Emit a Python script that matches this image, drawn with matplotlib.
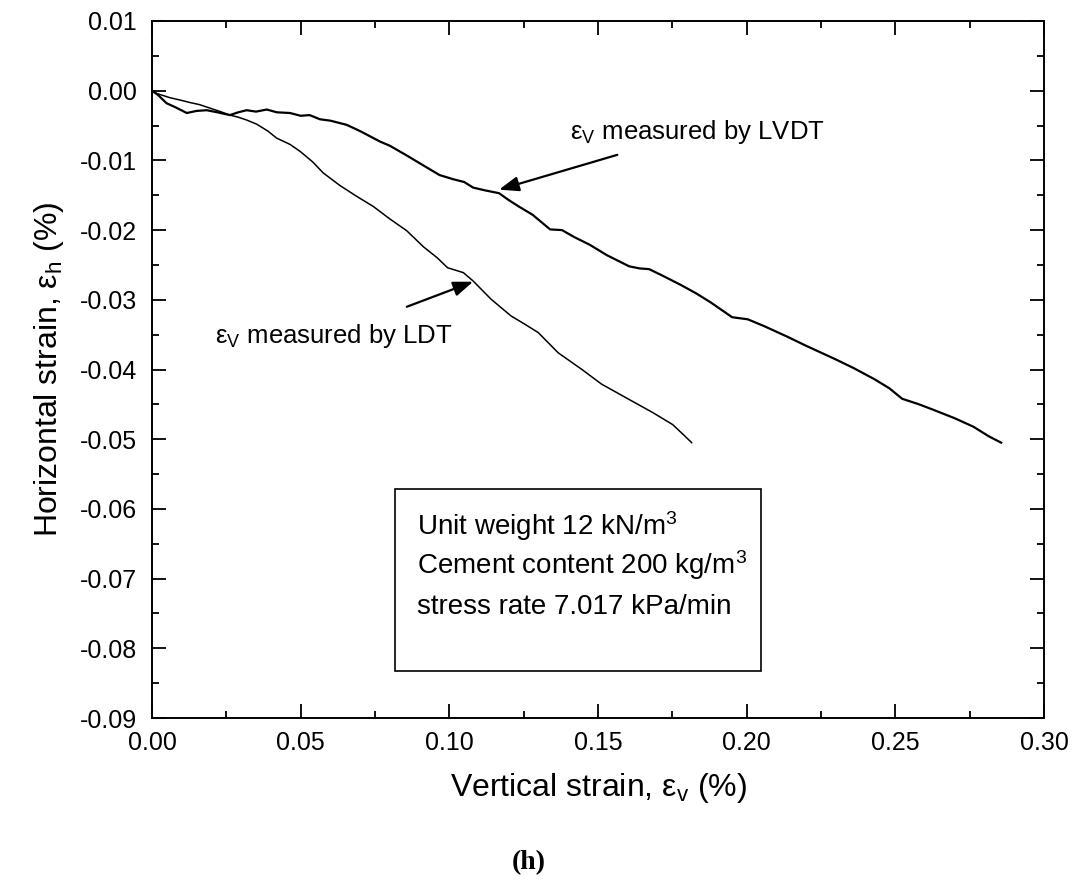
import numpy as np
import matplotlib
matplotlib.use("Agg")
import matplotlib.pyplot as plt
from matplotlib.ticker import MultipleLocator, FormatStrFormatter

plt.rcParams['font.family'] = ['Liberation Sans', 'DejaVu Sans']
plt.rcParams['mathtext.default'] = 'regular'

# eps_v measured by LVDT (x: vertical strain %, y: horizontal strain %)
lvdt_ev = [0.0000, 0.0020, 0.0049, 0.0080, 0.0117, 0.0150, 0.0184, 0.0220, 0.0262, 0.0290,
           0.0318, 0.0350, 0.0386, 0.0420, 0.0464, 0.0500, 0.0530, 0.0565, 0.0600, 0.0655,
           0.0700, 0.0767, 0.0800, 0.0857, 0.0900, 0.0967, 0.1013, 0.1050, 0.1080, 0.1120,
           0.1167, 0.1200, 0.1233, 0.1280, 0.1339, 0.1379, 0.1420, 0.1472, 0.1530, 0.1605,
           0.1640, 0.1672, 0.1720, 0.1780, 0.1831, 0.1880, 0.1951, 0.2004, 0.2060, 0.2137,
           0.2200, 0.2297, 0.2360, 0.2430, 0.2480, 0.2523, 0.2580, 0.2629, 0.2700, 0.2762,
           0.2815, 0.2856]
lvdt_eh = [0.0000, -0.0006, -0.0018, -0.0024, -0.0032, -0.0029, -0.0028, -0.0031, -0.0035, -0.0031,
           -0.0028, -0.0030, -0.0027, -0.0031, -0.0032, -0.0036, -0.0035, -0.0041, -0.0043, -0.0049,
           -0.0058, -0.0073, -0.0079, -0.0093, -0.0104, -0.0121, -0.0127, -0.0131, -0.0139, -0.0143,
           -0.0147, -0.0157, -0.0166, -0.0178, -0.0199, -0.0200, -0.0210, -0.0221, -0.0236, -0.0252,
           -0.0255, -0.0256, -0.0266, -0.0279, -0.0291, -0.0304, -0.0325, -0.0328, -0.0338, -0.0353,
           -0.0366, -0.0385, -0.0398, -0.0414, -0.0427, -0.0442, -0.0450, -0.0458, -0.0470, -0.0482,
           -0.0496, -0.0505]

# eps_v measured by LDT
ldt_ev = [0.0000, 0.0016, 0.0060, 0.0100, 0.0128, 0.0160, 0.0195, 0.0230, 0.0262, 0.0290,
          0.0318, 0.0352, 0.0390, 0.0419, 0.0464, 0.0498, 0.0540, 0.0576, 0.0632, 0.0690,
          0.0744, 0.0800, 0.0857, 0.0913, 0.0960, 0.0994, 0.1047, 0.1080, 0.1140, 0.1207,
          0.1250, 0.1299, 0.1366, 0.1446, 0.1512, 0.1592, 0.1685, 0.1751, 0.1791, 0.1815]
ldt_eh = [0.0000, -0.0004, -0.0010, -0.0014, -0.0017, -0.0020, -0.0025, -0.0030, -0.0035, -0.0038,
          -0.0042, -0.0048, -0.0058, -0.0068, -0.0077, -0.0087, -0.0102, -0.0118, -0.0136, -0.0152,
          -0.0166, -0.0184, -0.0201, -0.0224, -0.0240, -0.0254, -0.0261, -0.0273, -0.0299, -0.0323,
          -0.0334, -0.0347, -0.0376, -0.0400, -0.0421, -0.0440, -0.0462, -0.0479, -0.0495, -0.0505]

box_lines = ["Unit weight 12 kN/m$^3$",
             "Cement content 200 kg/m$^3$",
             "stress rate 7.017 kPa/min"]

fig = plt.figure(figsize=(10.83, 8.83), dpi=100)
ax = fig.add_axes([152/1083, 1-718/883, (1044-152)/1083, (718-21)/883])

ax.plot(lvdt_ev, lvdt_eh, color='black', lw=1.6)
ax.plot(ldt_ev, ldt_eh, color='black', lw=1.1)

ax.set_xlim(0, 0.30)
ax.set_ylim(-0.09, 0.01)
ax.xaxis.set_major_locator(MultipleLocator(0.05))
ax.xaxis.set_minor_locator(MultipleLocator(0.025))
ax.yaxis.set_major_locator(MultipleLocator(0.01))
ax.yaxis.set_minor_locator(MultipleLocator(0.005))
ax.xaxis.set_major_formatter(FormatStrFormatter('%.2f'))
ax.yaxis.set_major_formatter(FormatStrFormatter('%.2f'))
ax.tick_params(which='both', direction='in', top=True, right=True, width=1.3)
ax.tick_params(which='major', length=10, labelsize=18)
ax.tick_params(axis='x', which='major', pad=9)
ax.tick_params(axis='y', which='major', pad=11)
ax.tick_params(which='minor', length=5)
for s in ax.spines.values():
    s.set_linewidth(1.4)

ax.set_xlabel("Vertical strain, ε$_v$ (%)", fontsize=23, labelpad=12)
ax.set_ylabel("Horizontal strain, ε$_h$ (%)", fontsize=23, labelpad=10)

ax.text(0.1406, -0.0069, "ε$_V$ measured by LVDT", fontsize=18.5, va='baseline', ha='left')
ax.annotate("", xy=(0.1167, -0.0142), xytext=(0.1565, -0.0092),
            arrowprops=dict(arrowstyle='-|>,head_length=1.2,head_width=0.45', color='black', lw=1.6,
                            shrinkA=0, shrinkB=0))
ax.text(0.0212, -0.0362, "ε$_V$ measured by LDT", fontsize=18.5, va='baseline', ha='left')
ax.annotate("", xy=(0.1080, -0.0274), xytext=(0.0857, -0.0310),
            arrowprops=dict(arrowstyle='-|>,head_length=1.2,head_width=0.45', color='black', lw=1.6,
                            shrinkA=0, shrinkB=0))

# info box
box = plt.Rectangle((0.0818, -0.0833), 0.1231, 0.0261, fill=False, edgecolor='black', lw=1.2)
ax.add_patch(box)
for i, t in enumerate(box_lines):
    ax.text(0.0890, -0.0637 - i * 0.0057, t, fontsize=20, va='baseline', ha='left')

fig.text(529/1083, 1-863/883, "(h)", fontsize=20, fontweight='bold',
         family='Liberation Serif', ha='center', va='center')

fig.savefig("out.png", dpi=100)
